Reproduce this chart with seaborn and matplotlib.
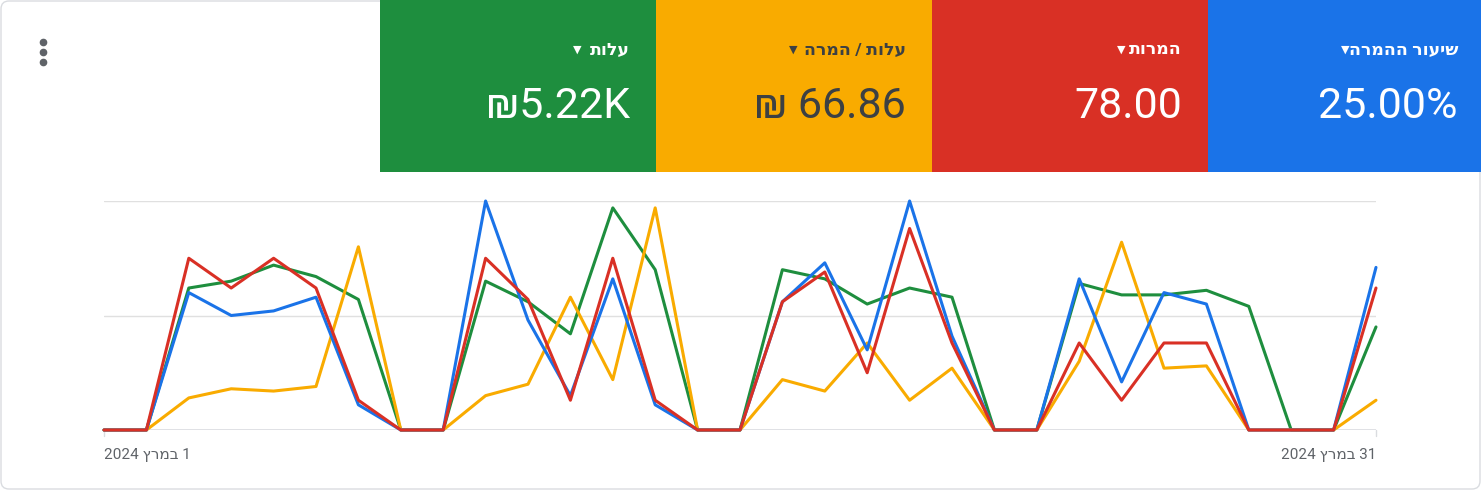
import matplotlib
matplotlib.use("Agg")
import matplotlib.pyplot as plt
import seaborn as sns
import pandas as pd
from matplotlib.patches import Rectangle, FancyBboxPatch

days = list(range(1, 32))
conv_rate = [0,0,60,50,52,58,11,0,0,100,48,15,66,11,0,0,56,73,35,100,41,0,0,66,21,60,55,0,0,0,71]
conversions = [0,0,75,62,75,62,13,0,0,75,57,13,75,13,0,0,56,69,25,88,38,0,0,38,13,38,38,0,0,0,62]
cost = [0,0,62,65,72,67,57,0,0,65,56,42,97,70,0,0,70,66,55,62,58,0,0,64,59,59,61,54,0,0,45]
cost_per_conv = [0,0,14,18,17,19,80,0,0,15,20,58,22,97,0,0,22,17,38,13,27,0,0,30,82,27,28,0,0,0,13]

tile_titles = ["עלות", "עלות / המרה", "המרות", "שיעור ההמרה"]
tile_values = ["₪5.22K", "₪ 66.86", "78.00", "25.00%"]
tile_colors = ["#1e8e3e", "#f9ab00", "#d93025", "#1a73e8"]
tile_text = ["white", "#3c4043", "white", "white"]
x_labels = ["1 במרץ 2024", "31 במרץ 2024"]

def vis(s):
    # visual LTR order for Hebrew text with numbers
    parts = s.split(" ")
    out = []
    for p in reversed(parts):
        if any('\u0590' <= c <= '\u05ff' for c in p):
            out.append(p[::-1])
        else:
            out.append(p)
    return " ".join(out)

sns.set_style("white")
plt.rcParams['font.family'] = ['Roboto', 'DejaVu Sans']
W, H = 1481, 490
fig = plt.figure(figsize=(W/100, H/100), dpi=100)
bg = fig.add_axes([0, 0, 1, 1])
bg.set_xlim(0, W); bg.set_ylim(H, 0); bg.axis("off")
bg.add_patch(FancyBboxPatch((1, 1), W-2, H-2, boxstyle="round,pad=0,rounding_size=8",
                            fc="white", ec="#dadce0", lw=1))
x0s = [380, 656, 932, 1208]
for i in range(4):
    w = 276 if i < 3 else W - 1208
    bg.add_patch(Rectangle((x0s[i], 0), w, 172, color=tile_colors[i], lw=0))
    r = x0s[i] + 250
    bg.text(r, 50, vis(tile_titles[i]), ha="right", va="center", fontsize=12.5,
            color=tile_text[i], fontweight="bold", family=['Roboto', 'DejaVu Sans'])
    tw = len(tile_titles[i]) * 8.6 + 14
    bg.text(r - tw, 50, "▼", ha="right", va="center", fontsize=8, color=tile_text[i],
            family=['DejaVu Sans'])
    bg.text(r, 106, tile_values[i], ha="right", va="center", fontsize=31,
            color=tile_text[i], family=['Roboto', 'DejaVu Sans'])
for yy in (42, 52, 62):
    bg.plot(43, yy, "o", color="#5f6368", ms=4.5)

ax = fig.add_axes([104/W, 60/H, 1272/W, 229/H])
df = pd.DataFrame({"day": days, "a": conv_rate, "b": conversions, "c": cost, "d": cost_per_conv})
for col, c in zip(["c", "d", "a", "b"], ["#1e8e3e", "#f9ab00", "#1a73e8", "#d93025"]):
    sns.lineplot(data=df, x="day", y=col, ax=ax, color=c, lw=2.2, clip_on=False)
ax.set_xlim(1, 31); ax.set_ylim(0, 100)
for yv in (50, 100):
    ax.axhline(yv, color="#e0e0e0", lw=1, zorder=0)
ax.axhline(0, color="#dadce0", lw=1.2, zorder=0)
for s in ax.spines.values():
    s.set_visible(False)
ax.set_xticks([]); ax.set_yticks([]); ax.set_xlabel(""); ax.set_ylabel("")
ax.patch.set_alpha(0)
bg.plot([104, 104], [430, 436], color="#dadce0", lw=1)
bg.plot([1376, 1376], [430, 436], color="#dadce0", lw=1)
bg.text(104, 455, vis(x_labels[0]), ha="left", va="center", fontsize=11, color="#5f6368")
bg.text(1376, 455, vis(x_labels[1]), ha="right", va="center", fontsize=11, color="#5f6368")
fig.savefig("out.png", dpi=100)
